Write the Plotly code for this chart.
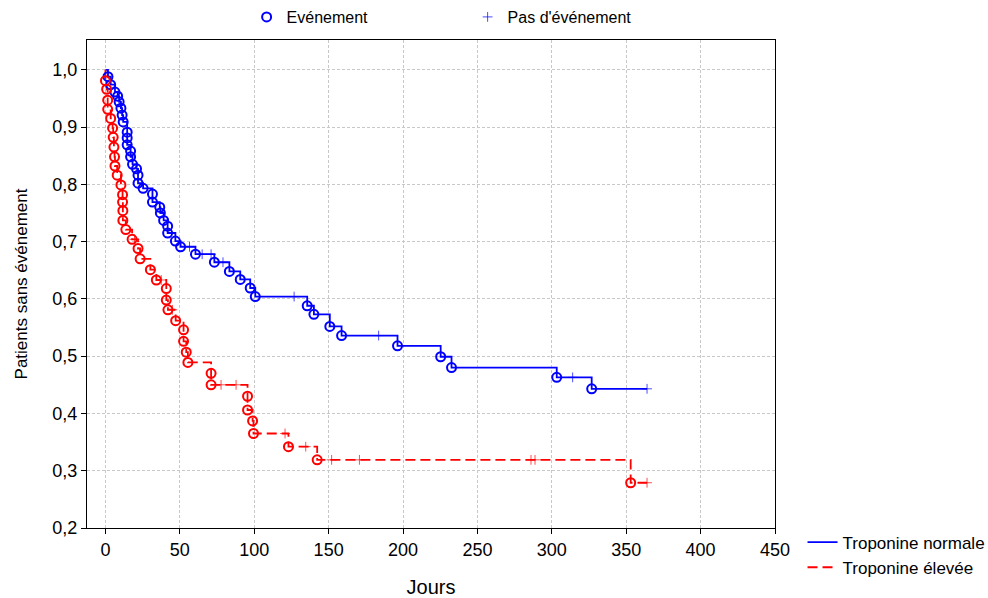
import plotly.graph_objects as go

# ---------------- data ----------------
blue_event_days = [1.7, 3.5, 6.4, 8.2, 9.2, 10.4, 11.2, 11.9, 14.6, 14.6,
                   14.6, 16.9, 16.9, 18.2, 20.9, 21.9, 21.9, 25.3, 31.6, 31.6,
                   36.5, 36.9, 39.1, 41.8, 41.8, 47.0, 50.5, 60.5, 73.2, 83.3,
                   90.6, 97.3, 100.7, 135.6, 140.1, 150.8, 158.7, 196.3, 225.3, 232.6,
                   303.3, 326.8]
blue_event_surv = [0.988, 0.974, 0.961, 0.954, 0.944, 0.933, 0.921, 0.909, 0.891, 0.881,
                   0.869, 0.858, 0.848, 0.835, 0.827, 0.816, 0.802, 0.793, 0.783, 0.769,
                   0.760, 0.750, 0.737, 0.727, 0.715, 0.701, 0.691, 0.678, 0.664, 0.648,
                   0.634, 0.619, 0.604, 0.588, 0.573, 0.552, 0.536, 0.518, 0.499, 0.480,
                   0.463, 0.443]
blue_cens_days = [56.5, 65.0, 71.0, 79.0, 126.8, 183.6, 314.0, 364.0]

red_event_days = [0.0, 0.8, 1.5, 1.5, 3.5, 4.8, 5.2, 5.7, 6.1, 6.4,
                  7.9, 10.4, 11.5, 11.5, 11.7, 11.7, 13.7, 17.9, 21.9, 23.3,
                  30.2, 34.2, 40.9, 40.9, 42.0, 47.2, 52.5, 52.5, 54.3, 55.4,
                  71.0, 71.0, 95.5, 95.5, 98.9, 99.5, 123.0, 142.3, 353.0]
red_event_surv = [0.981, 0.966, 0.947, 0.931, 0.915, 0.898, 0.882, 0.865, 0.848, 0.832,
                  0.816, 0.799, 0.782, 0.769, 0.754, 0.737, 0.721, 0.704, 0.688, 0.670,
                  0.651, 0.633, 0.618, 0.598, 0.581, 0.562, 0.546, 0.526, 0.507, 0.489,
                  0.470, 0.450, 0.430, 0.406, 0.387, 0.365, 0.342, 0.319, 0.279]
red_cens_days = [19.5, 37.5, 45.0, 77.7, 87.8, 120.7, 134.6, 152.0, 170.7, 286.0, 288.7, 364.0]

x_ticks = [0, 50, 100, 150, 200, 250, 300, 350, 400, 450]
y_ticks = [0.2, 0.3, 0.4, 0.5, 0.6, 0.7, 0.8, 0.9, 1.0]

group_names = ["Troponine normale", "Troponine élevée"]
marker_names = ["Evénement", "Pas d'événement"]

BLUE = "#0000ff"
RED = "#ff0000"


def level_at(t, ev_days, ev_surv):
    s = 1.0
    for d, v in zip(ev_days, ev_surv):
        if d <= t:
            s = v
    return s


def step_curve(ev_days, ev_surv, cens_days):
    pts = [(d, v, 0) for d, v in zip(ev_days, ev_surv)]
    pts += [(d, level_at(d, ev_days, ev_surv), 1) for d in cens_days]
    pts.sort(key=lambda p: (p[0], p[2]))
    xs = [0.0] + [p[0] for p in pts]
    ys = [1.0] + [p[1] for p in pts]
    return xs, ys


blue_cens_surv = [level_at(d, blue_event_days, blue_event_surv) for d in blue_cens_days]
red_cens_surv = [level_at(d, red_event_days, red_event_surv) for d in red_cens_days]

bx, by = step_curve(blue_event_days, blue_event_surv, blue_cens_days)
rx, ry = step_curve(red_event_days, red_event_surv, red_cens_days)

fig = go.Figure()

fig.add_trace(go.Scatter(x=bx, y=by, mode="lines", line_shape="hv",
                         line=dict(color=BLUE, width=1.8),
                         name=group_names[0], legend="legend2"))
fig.add_trace(go.Scatter(x=rx, y=ry, mode="lines", line_shape="hv",
                         line=dict(color=RED, width=1.8, dash="10px,5px"),
                         name=group_names[1], legend="legend2"))

circle = dict(symbol="circle-open", size=9, line=dict(width=2))
cross = dict(symbol="cross-thin-open", size=7, line=dict(width=1), opacity=0.7)

fig.add_trace(go.Scatter(x=blue_event_days, y=blue_event_surv, mode="markers",
                         marker=dict(color=BLUE, **circle), name=marker_names[0],
                         legend="legend"))
fig.add_trace(go.Scatter(x=blue_cens_days, y=blue_cens_surv, mode="markers",
                         marker=dict(color=BLUE, **cross), name=marker_names[1],
                         legend="legend"))
fig.add_trace(go.Scatter(x=red_event_days, y=red_event_surv, mode="markers",
                         marker=dict(color=RED, **circle), showlegend=False))
fig.add_trace(go.Scatter(x=red_cens_days, y=red_cens_surv, mode="markers",
                         marker=dict(color=RED, **cross), showlegend=False))

axis_common = dict(showline=True, linecolor="black", linewidth=1, mirror=True,
                   ticks="outside", ticklen=5, tickcolor="black",
                   showgrid=True, gridcolor="#c8c8c8", griddash="3px,2px", gridwidth=1,
                   zeroline=False, tickfont=dict(size=18, color="black"))

fig.update_xaxes(range=[-12.4, 450], tickvals=x_ticks,
                 title=dict(text="Jours", font=dict(size=20, color="black"), standoff=22),
                 **axis_common)
fig.update_yaxes(range=[0.2, 1.052], tickvals=y_ticks, tickformat=".1f",
                 title=dict(text="Patients sans événement", font=dict(size=17, color="black"),
                            standoff=20),
                 **axis_common)

fig.update_layout(
    width=988, height=598,
    margin=dict(l=87, r=213, t=40, b=70, autoexpand=False),
    paper_bgcolor="white", plot_bgcolor="white",
    separators=", ",
    font=dict(family="Liberation Sans, Arial, sans-serif", color="black"),
    legend=dict(orientation="h", x=0.232, y=1.0, yref="container",
                xanchor="left", yanchor="top",
                font=dict(size=16), entrywidth=176, bgcolor="rgba(0,0,0,0)"),
    legend2=dict(orientation="v", x=1.04, y=0.007, xanchor="left", yanchor="top",
                 font=dict(size=17), bgcolor="rgba(0,0,0,0)"),
)

fig.write_html("out.html")
